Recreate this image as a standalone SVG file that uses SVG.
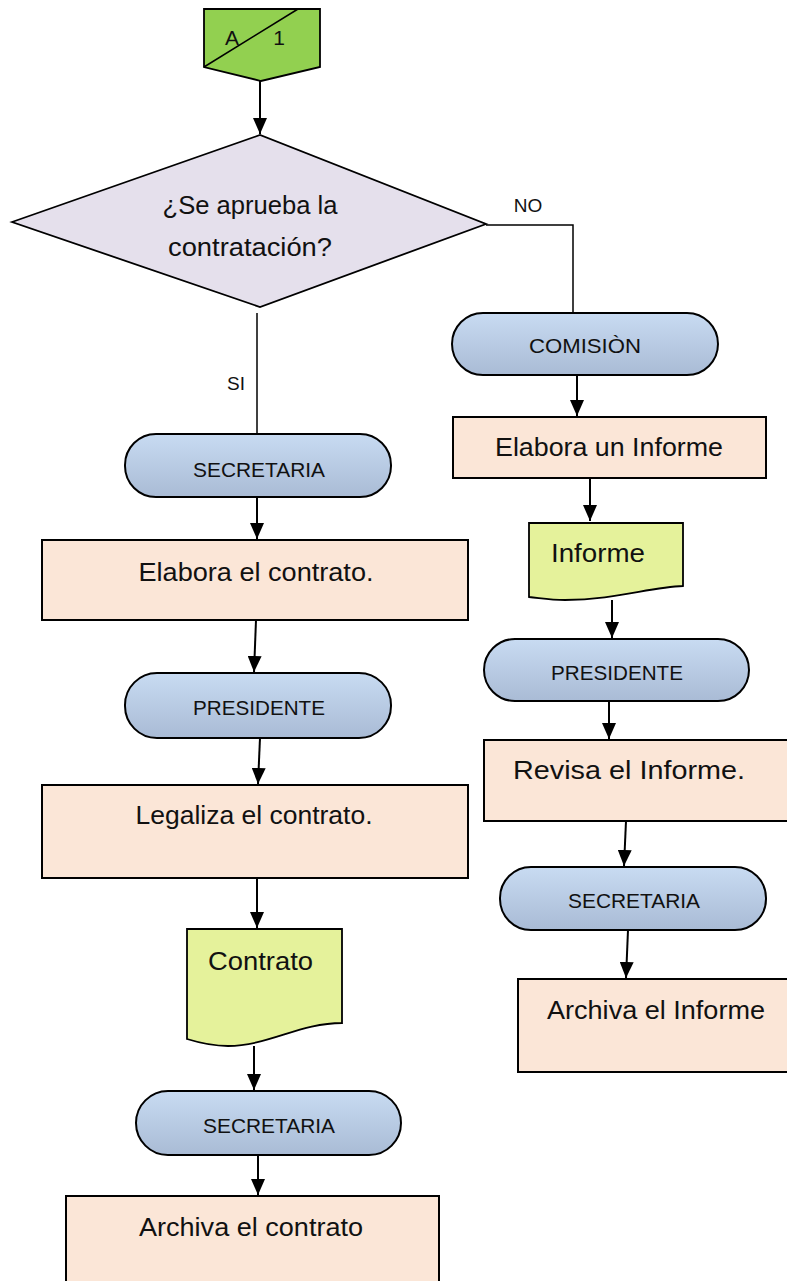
<svg xmlns="http://www.w3.org/2000/svg" width="787" height="1281" viewBox="0 0 787 1281">
  <defs>
    <linearGradient id="termFill" x1="0" y1="0" x2="0" y2="1">
      <stop offset="0" stop-color="#c8dbf2"/>
      <stop offset="1" stop-color="#a9bbd5"/>
    </linearGradient>
    <marker id="tip" viewBox="0 0 16 14" markerWidth="16" markerHeight="14" refX="16" refY="7" orient="auto" markerUnits="userSpaceOnUse">
      <path d="M0,0 L16,7 L0,14 Z" fill="#000"/>
    </marker>
    <style>
      .term { fill: url(#termFill); stroke: #000; stroke-width: 2; }
      .proc { fill: #fbe6d7; stroke: #000; stroke-width: 2; }
      .doc { fill: #e5f29b; stroke: #000; stroke-width: 1.8; }
      .dec { fill: #e5e0ec; stroke: #000; stroke-width: 1.8; }
      .off { fill: #92d050; stroke: #000; stroke-width: 1.8; }
      .flow { fill: none; stroke: #000; stroke-width: 2; marker-end: url(#tip); }
      .line { fill: none; stroke: #000; stroke-width: 1.5; }
      text { font-family: "Liberation Sans", Arial, sans-serif; fill: #111; }
      .t24 { font-size: 25px; }
      .t20 { font-size: 21px; }
      .lbl { font-size: 19px; }
    </style>
  </defs>

  <!-- connectors -->
  <g id="connectors">
    <path class="flow" d="M260,81 V134"/>
    <path class="line" d="M486,225 H573 V312"/>
    <path class="line" d="M257,313 V433"/>
    <text class="lbl" x="236" y="390" text-anchor="middle">SI</text>
    <text class="lbl" x="528" y="212" text-anchor="middle">NO</text>

    <path class="flow" d="M577,375 V416"/>
    <path class="flow" d="M590,478 V521"/>
    <path class="flow" d="M612,600 V638"/>
    <path class="flow" d="M609,701 V739"/>
    <path class="flow" d="M626,821 L624,866"/>
    <path class="flow" d="M628,930 L626,978"/>

    <path class="flow" d="M257,497 V539"/>
    <path class="flow" d="M256,620 L254,672"/>
    <path class="flow" d="M260,738 L258,784"/>
    <path class="flow" d="M257,878 V928"/>
    <path class="flow" d="M254,1046 V1090"/>
    <path class="flow" d="M258,1155 V1195"/>
  </g>

  <!-- off-page connector -->
  <g id="offpage">
    <path class="off" d="M204,9 H320 V67 L261,81 L204,67 Z"/>
    <path class="line" d="M204,67 L298,9"/>
    <text class="t20" x="232" y="45" text-anchor="middle">A</text>
    <text class="t20" x="279" y="45" text-anchor="middle">1</text>
  </g>

  <!-- decision -->
  <g id="decision">
    <path class="dec" d="M12,222 L260,135 L486,224 L260,307 Z"/>
    <text class="t24" x="250" y="214" text-anchor="middle" textLength="175" lengthAdjust="spacingAndGlyphs">¿Se aprueba la</text>
    <text class="t24" x="250" y="256" text-anchor="middle" textLength="164" lengthAdjust="spacingAndGlyphs">contratación?</text>
  </g>

  <!-- right branch -->
  <g id="comision">
    <rect class="term" x="452" y="313" width="266" height="62" rx="31"/>
    <text class="t20" x="585" y="353" text-anchor="middle" textLength="112" lengthAdjust="spacingAndGlyphs">COMISIÒN</text>
  </g>
  <g id="elabora-informe">
    <rect class="proc" x="453" y="417" width="313" height="61"/>
    <text class="t24" x="609" y="456" text-anchor="middle" textLength="228" lengthAdjust="spacingAndGlyphs">Elabora un Informe</text>
  </g>
  <g id="informe-doc">
    <path class="doc" d="M529,523 H683 V586 C650,587 615,600 565,600 C550,600 540,598 529,597 Z"/>
    <text class="t24" x="551" y="562" textLength="94" lengthAdjust="spacingAndGlyphs">Informe</text>
  </g>
  <g id="presidente-right">
    <rect class="term" x="484" y="639" width="265" height="62" rx="31"/>
    <text class="t20" x="617" y="680" text-anchor="middle" textLength="132" lengthAdjust="spacingAndGlyphs">PRESIDENTE</text>
  </g>
  <g id="revisa-informe">
    <rect class="proc" x="484" y="740" width="320" height="81"/>
    <text class="t24" x="629" y="779" text-anchor="middle" textLength="232" lengthAdjust="spacingAndGlyphs">Revisa el Informe.</text>
  </g>
  <g id="secretaria-right">
    <rect class="term" x="500" y="867" width="266" height="63" rx="31"/>
    <text class="t20" x="634" y="908" text-anchor="middle" textLength="132" lengthAdjust="spacingAndGlyphs">SECRETARIA</text>
  </g>
  <g id="archiva-informe">
    <rect class="proc" x="518" y="979" width="290" height="93"/>
    <text class="t24" x="656" y="1019" text-anchor="middle" textLength="218" lengthAdjust="spacingAndGlyphs">Archiva el Informe</text>
  </g>

  <!-- left branch -->
  <g id="secretaria-1">
    <rect class="term" x="125" y="434" width="266" height="63" rx="31"/>
    <text class="t20" x="259" y="477" text-anchor="middle" textLength="132" lengthAdjust="spacingAndGlyphs">SECRETARIA</text>
  </g>
  <g id="elabora-contrato">
    <rect class="proc" x="42" y="540" width="426" height="80"/>
    <text class="t24" x="256" y="581" text-anchor="middle" textLength="235" lengthAdjust="spacingAndGlyphs">Elabora el contrato.</text>
  </g>
  <g id="presidente-left">
    <rect class="term" x="125" y="673" width="266" height="65" rx="32"/>
    <text class="t20" x="259" y="715" text-anchor="middle" textLength="132" lengthAdjust="spacingAndGlyphs">PRESIDENTE</text>
  </g>
  <g id="legaliza-contrato">
    <rect class="proc" x="42" y="785" width="426" height="93"/>
    <text class="t24" x="254" y="824" text-anchor="middle" textLength="237" lengthAdjust="spacingAndGlyphs">Legaliza el contrato.</text>
  </g>
  <g id="contrato-doc">
    <path class="doc" d="M187,929 H342 V1023 C300,1023 268,1046 228,1046 C212,1046 200,1043 187,1039 Z"/>
    <text class="t24" x="208" y="970" textLength="105" lengthAdjust="spacingAndGlyphs">Contrato</text>
  </g>
  <g id="secretaria-2">
    <rect class="term" x="136" y="1091" width="265" height="64" rx="32"/>
    <text class="t20" x="269" y="1133" text-anchor="middle" textLength="132" lengthAdjust="spacingAndGlyphs">SECRETARIA</text>
  </g>
  <g id="archiva-contrato">
    <rect class="proc" x="66" y="1196" width="373" height="100"/>
    <text class="t24" x="251" y="1236" text-anchor="middle" textLength="224" lengthAdjust="spacingAndGlyphs">Archiva el contrato</text>
  </g>
</svg>
